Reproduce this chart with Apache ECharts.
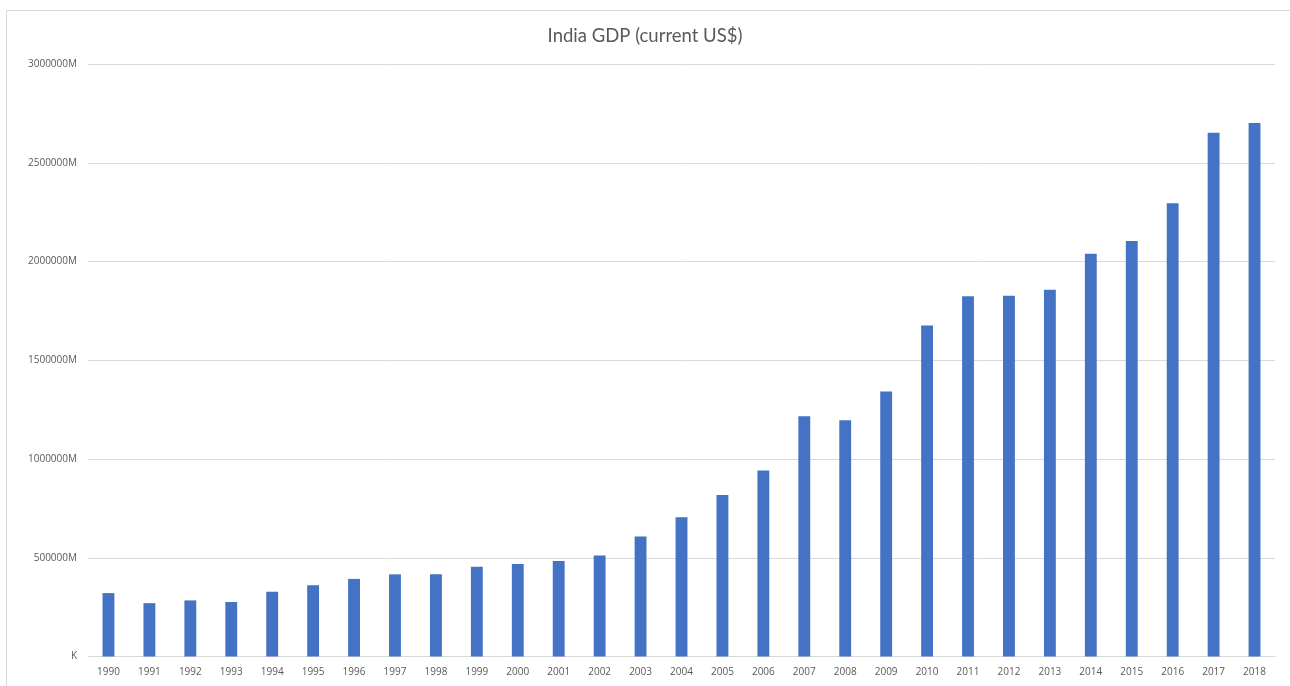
<!DOCTYPE html>
<html>
<head>
<meta charset="utf-8">
<script src="https://cdn.jsdelivr.net/npm/echarts@6/dist/echarts.min.js"></script>
<style>
html,body{margin:0;padding:0;background:#fff;}
#frame{position:absolute;left:6px;top:10px;width:1290px;height:700px;border:1px solid #d9d9d9;box-sizing:border-box;}
#chart{position:absolute;left:0;top:0;width:1290px;height:686px;}
</style>
</head>
<body>
<div id="frame"></div>
<div id="chart"></div>
<script>
const years = ['1990','1991','1992','1993','1994','1995','1996','1997','1998','1999','2000','2001','2002','2003','2004','2005','2006','2007','2008','2009','2010','2011','2012','2013','2014','2015','2016','2017','2018'];
const gdpMillions = [321000,270100,284000,276000,327300,360300,392900,415900,417000,455000,468400,484000,512000,607700,705000,818000,942000,1216700,1196000,1341900,1675600,1824000,1826000,1856700,2039100,2103600,2294800,2651500,2701100];
const yTicks = {min:0, max:3000000, interval:500000};
const titleText = 'India GDP (current US$)';

const chart = echarts.init(document.getElementById('chart'), null, {renderer:'canvas'});
chart.setOption({
  animation:false,
  backgroundColor:'transparent',
  title:{
    text:titleText, left:'center', top:22,
    textStyle:{fontFamily:'Lato', fontSize:18.5, fontWeight:'normal', color:'#595959'}
  },
  grid:{left:88, right:15, top:64, bottom:29.5, containLabel:false},
  xAxis:{
    type:'category', data:years,
    axisLine:{show:true, lineStyle:{color:'#d9d9d9', width:1}},
    axisTick:{show:false},
    axisLabel:{color:'#595959', fontFamily:'Open Sans', fontSize:10, margin:11}
  },
  yAxis:{
    type:'value', min:yTicks.min, max:yTicks.max, interval:yTicks.interval,
    axisLine:{show:false}, axisTick:{show:false},
    splitLine:{lineStyle:{color:'#d9d9d9', width:1}},
    axisLabel:{color:'#595959', fontFamily:'Open Sans', fontSize:10, margin:11,
      formatter:function(v){return v===0 ? 'K' : v + 'M';}}
  },
  series:[{
    type:'bar', data:gdpMillions, barWidth:'29%',
    itemStyle:{color:'#4472c4'}
  }]
});
</script>
</body>
</html>
